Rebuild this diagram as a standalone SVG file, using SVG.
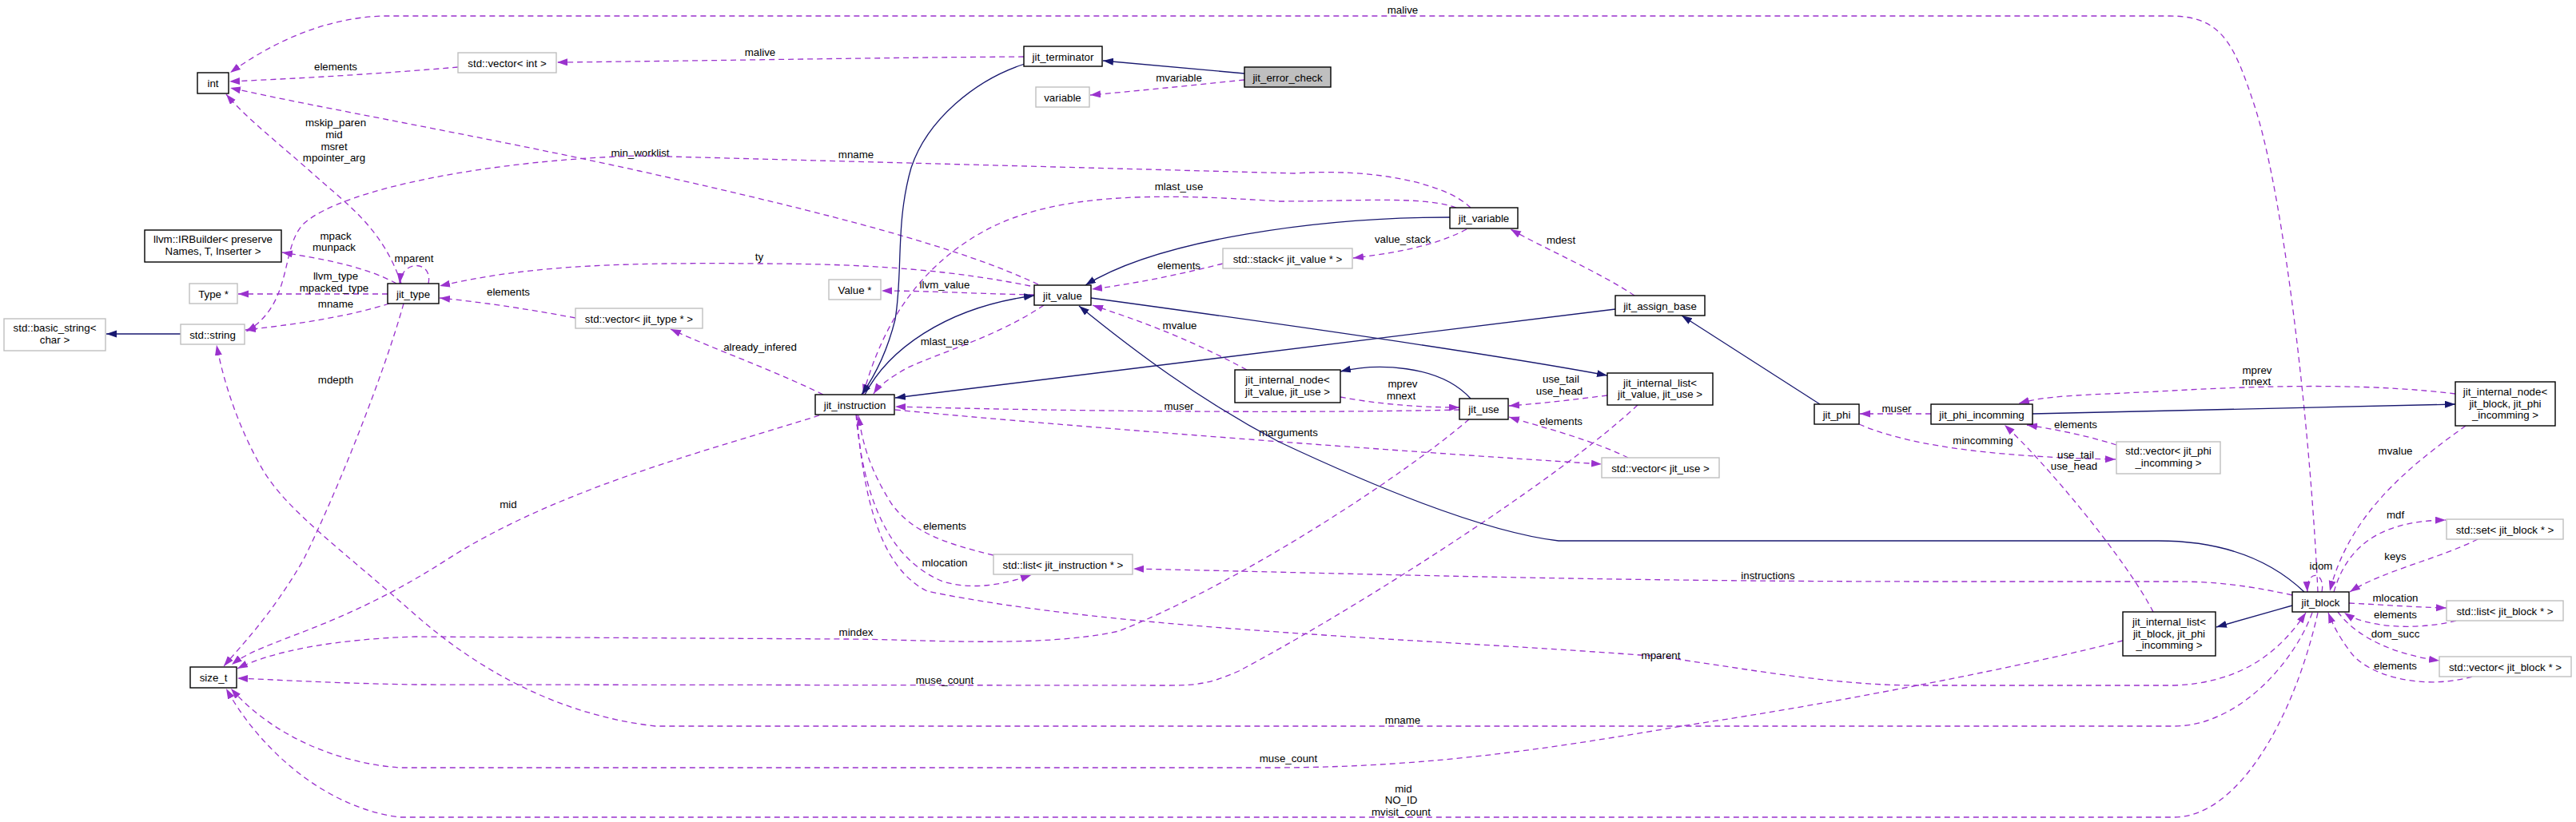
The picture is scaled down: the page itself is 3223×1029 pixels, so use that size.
<svg xmlns="http://www.w3.org/2000/svg" width="3223" height="1029" viewBox="0 0 3223 1029">
<defs>
<marker id="ap" markerWidth="14" markerHeight="10" refX="13" refY="4.5" orient="auto" markerUnits="userSpaceOnUse"><path d="M0,0 L13,4.5 L0,9 z" fill="#9a32cd"/></marker>
<marker id="an" markerWidth="14" markerHeight="10" refX="13" refY="4.5" orient="auto" markerUnits="userSpaceOnUse"><path d="M0,0 L13,4.5 L0,9 z" fill="#191970"/></marker>
<style>
text{font-family:"Liberation Sans",Arial,sans-serif;font-size:13.3px;fill:#000;text-anchor:middle}
.n rect{fill:#fff;stroke:#000;stroke-width:1.4}
.g rect{fill:#fff;stroke:#bfbfbf;stroke-width:1.4}
.cur rect{fill:#bfbfbf}
.u{fill:none;stroke:#9a32cd;stroke-width:1.3;stroke-dasharray:7,5;marker-end:url(#ap)}
.i{fill:none;stroke:#191970;stroke-width:1.3;marker-end:url(#an)}
</style>
</defs>
<rect width="3223" height="1029" fill="#fff"/>
<g id="connectors">
<path class="u" d="M2900,741 C2892,560 2860,250 2820,130 C2795,55 2780,20 2715,20 L480,20 C410,22 345,50 288,91"/>
<text x="1755" y="16.5">malive</text>
<path class="u" d="M573,84 C480,92 380,98 287,102"/>
<text x="420" y="87.5">elements</text>
<path class="u" d="M1281,71 C1100,72 900,76 697,78"/>
<text x="951" y="69.5">malive</text>
<path class="u" d="M1557,100 C1490,107 1420,114 1364,119"/>
<text x="1475" y="101.5">mvariable</text>
<path class="u" d="M1299,356 C1200,310 1050,270 800,214 C600,170 400,135 288,110"/>
<text x="801" y="195.5">min_worklist</text>
<path class="u" d="M502,355 C480,290 440,260 400,225 C350,180 310,150 283,118"/>
<text x="420" y="157.5">mskip_paren</text>
<text x="418" y="172.5">mid</text>
<text x="418" y="187.5">msret</text>
<text x="418" y="201.5">mpointer_arg</text>
<path class="u" d="M496,355 C460,335 410,325 353,316"/>
<text x="420" y="299.5">mpack</text>
<text x="418" y="313.5">munpack</text>
<path class="u" d="M485,368 L298,368"/>
<text x="420" y="349.5">llvm_type</text>
<text x="418" y="364.5">mpacked_type</text>
<path class="u" d="M487,380 C440,395 380,405 307,413"/>
<text x="420" y="384.5">mname</text>
<path class="u" d="M536,355 C542,326 503,324 500,355"/>
<text x="518" y="327.5">mparent</text>
<path class="u" d="M505,380 C480,470 420,620 380,700 C340,770 300,810 280,834"/>
<text x="420" y="479.5">mdepth</text>
<path class="u" d="M1025,520 C900,560 700,610 560,700 C420,790 330,800 290,832"/>
<text x="636" y="635.5">mid</text>
<path class="u" d="M1289,358 C1200,340 1100,330 950,330 C750,328 650,335 550,358"/>
<text x="950" y="325.5">ty</text>
<path class="u" d="M720,398 C650,385 600,378 550,373"/>
<text x="636" y="369.5">elements</text>
<path class="u" d="M1030,494 C960,460 900,440 839,412"/>
<text x="951" y="438.5">already_infered</text>
<path class="u" d="M1294,369 C1230,368 1160,364 1103,364"/>
<text x="1182" y="360.5">llvm_value</text>
<path class="u" d="M1822,260 C1780,245 1700,252 1600,252 C1450,242 1320,240 1230,290 C1140,340 1100,420 1080,494"/>
<text x="1475" y="237.5">mlast_use</text>
<path class="u" d="M1840,260 C1810,230 1720,210 1620,217 L800,195 C620,200 430,235 380,280 C350,310 368,380 308,415"/>
<text x="1071" y="197.5">mname</text>
<path class="u" d="M1306,382 C1250,420 1180,440 1136,460 C1115,472 1100,482 1093,493"/>
<text x="1182" y="431.5">mlast_use</text>
<path class="u" d="M1835,287 C1800,305 1760,315 1693,323"/>
<text x="1755" y="303.5">value_stack</text>
<path class="u" d="M1530,330 C1470,345 1420,355 1366,362"/>
<text x="1475" y="336.5">elements</text>
<path class="u" d="M2045,370 C2000,340 1930,310 1890,287"/>
<text x="1953" y="304.5">mdest</text>
<path class="u" d="M1560,463 C1480,420 1420,400 1367,382"/>
<text x="1476" y="411.5">mvalue</text>
<path class="u" d="M1826,513 C1600,518 1300,514 1120,509"/>
<text x="1475" y="512.5">muser</text>
<path class="u" d="M1677,497 C1720,505 1770,510 1826,510"/>
<text x="1755" y="484.5">mprev</text>
<text x="1753" y="499.5">mnext</text>
<path class="u" d="M2011,495 C1970,500 1930,505 1888,508"/>
<text x="1953" y="478.5">use_tail</text>
<text x="1951" y="493.5">use_head</text>
<path class="u" d="M2037,573 C1990,550 1930,535 1888,522"/>
<text x="1953" y="531.5">elements</text>
<path class="u" d="M1120,513 C1350,535 1750,565 2004,581"/>
<text x="1612" y="545.5">marguments</text>
<path class="u" d="M1072,519 C1080,620 1100,710 1160,740 C1400,790 1800,800 2078,822 C2200,840 2300,858 2400,858 L2720,858 C2800,855 2850,820 2885,767"/>
<text x="2078" y="824.5">mparent</text>
<path class="u" d="M1071,519 C1080,620 1110,700 1180,728 C1220,740 1260,730 1290,720"/>
<text x="1182" y="708.5">mlocation</text>
<path class="u" d="M1243,695 C1180,680 1140,665 1115,630 C1090,590 1080,560 1074,520"/>
<text x="1182" y="662.5">elements</text>
<path class="u" d="M2868,745 C2800,730 2760,728 2720,728 L2420,728 C2000,728 1700,718 1418,712"/>
<text x="2212" y="724.5">instructions</text>
<path class="u" d="M2416,518 L2327,518"/>
<text x="2373" y="515.5">muser</text>
<path class="u" d="M2326,531 C2380,555 2480,572 2647,575"/>
<text x="2481" y="555.5">mincomming</text>
<path class="u" d="M2648,557 C2610,545 2570,537 2536,532"/>
<text x="2597" y="535.5">elements</text>
<path class="u" d="M2694,766 C2660,700 2560,580 2508,532"/>
<text x="2597" y="573.5">use_tail</text>
<text x="2595" y="587.5">use_head</text>
<path class="u" d="M3072,493 C2980,482 2873,480 2700,490 C2600,495 2560,495 2526,505"/>
<text x="2824" y="467.5">mprev</text>
<text x="2823" y="481.5">mnext</text>
<path class="u" d="M3085,533 C3020,580 2940,640 2915,740"/>
<text x="2997" y="568.5">mvalue</text>
<path class="u" d="M2920,741 C2935,690 2970,652 3060,651"/>
<text x="2997" y="648.5">mdf</text>
<path class="u" d="M3100,675 C3050,700 2980,715 2940,741"/>
<text x="2997" y="700.5">keys</text>
<path class="u" d="M2905,741 C2910,715 2885,712 2887,741"/>
<text x="2904" y="712.5">idom</text>
<path class="u" d="M3073,777 C3020,790 2960,785 2933,767"/>
<text x="2997" y="773.5">elements</text>
<path class="u" d="M2939,755 C2980,757 3020,760 3061,761"/>
<text x="2997" y="752.5">mlocation</text>
<path class="u" d="M2925,766 C2950,800 3000,820 3052,827"/>
<text x="2997" y="797.5">dom_succ</text>
<path class="u" d="M3093,847 C3030,865 2960,845 2940,815 C2925,795 2918,780 2913,767"/>
<text x="2997" y="837.5">elements</text>
<path class="u" d="M1838,525 C1750,600 1550,730 1400,790 C1300,812 1150,800 1058,800 L520,797 C420,800 340,815 297,837"/>
<text x="1071" y="795.5">mindex</text>
<path class="u" d="M2049,507 C1950,600 1700,760 1550,840 C1510,858 1490,858 1460,858 L520,857 C400,855 330,850 297,849"/>
<text x="1182" y="855.5">muse_count</text>
<path class="u" d="M2656,802 C2550,830 2300,880 2116,907 C1950,935 1800,960 1600,961 L500,961 C420,955 340,920 289,862"/>
<text x="1612" y="953.5">muse_count</text>
<path class="u" d="M2893,767 C2870,830 2800,909 2720,909 L820,909 C700,895 600,840 520,770 C430,690 360,640 330,590 C300,540 280,480 271,432"/>
<text x="1755" y="905.5">mname</text>
<path class="u" d="M2900,767 C2870,900 2800,1023 2720,1023 L500,1023 C400,1010 320,930 283,862"/>
<text x="1756" y="991.5">mid</text>
<text x="1753" y="1005.5">NO_ID</text>
<text x="1753" y="1020.5">mvisit_count</text>
<path class="i" d="M226,418 L133,418"/>
<path class="i" d="M1557,92 L1380,76"/>
<path class="i" d="M1282,80 C1220,100 1160,150 1140,210 C1120,280 1130,340 1120,400 C1110,440 1095,470 1078,494"/>
<path class="i" d="M1082,494 C1110,440 1180,385 1294,370"/>
<path class="i" d="M1814,272 C1650,272 1450,300 1358,357"/>
<path class="i" d="M2021,387 L1120,498"/>
<path class="i" d="M1365,373 C1600,405 1850,440 2011,470"/>
<path class="i" d="M2277,506 L2104,395"/>
<path class="i" d="M2883,741 C2840,700 2780,677 2700,677 L1950,677 C1850,665 1700,600 1600,553 C1500,500 1420,440 1350,383"/>
<path class="i" d="M2543,518 L3072,506"/>
<path class="i" d="M2868,758 L2773,785"/>
<path class="i" d="M1840,499 C1800,455 1720,455 1677,465"/>
</g>
<g id="n_int" class="n"><rect x="247" y="91" width="39" height="26"/><text x="266.5" y="108.5">int</text></g>
<g id="n_vecint" class="g"><rect x="573" y="66" width="123" height="25"/><text x="634.5" y="83.5">std::vector&lt; int &gt;</text></g>
<g id="n_irbuilder" class="n"><rect x="181" y="288" width="171" height="40"/><text x="266.5" y="304">llvm::IRBuilder&lt; preserve</text><text x="266.5" y="319">Names, T, Inserter &gt;</text></g>
<g id="n_typeptr" class="g"><rect x="237" y="355" width="60" height="25"/><text x="267" y="372.5">Type *</text></g>
<g id="n_basicstring" class="g"><rect x="5" y="399" width="127" height="40"/><text x="68.5" y="415">std::basic_string&lt;</text><text x="68.5" y="430">char &gt;</text></g>
<g id="n_string" class="g"><rect x="226" y="406" width="80" height="25"/><text x="266" y="423.5">std::string</text></g>
<g id="n_jit_type" class="n"><rect x="485" y="355" width="64" height="25"/><text x="517" y="372.5">jit_type</text></g>
<g id="n_vecjittype" class="g"><rect x="720" y="386" width="159" height="25"/><text x="799.5" y="403.5">std::vector&lt; jit_type * &gt;</text></g>
<g id="n_jit_terminator" class="n"><rect x="1281" y="58" width="98" height="25"/><text x="1330" y="75.5">jit_terminator</text></g>
<g id="n_jit_error_check" class="n cur"><rect x="1557" y="84" width="108" height="25"/><text x="1611" y="101.5">jit_error_check</text></g>
<g id="n_variable" class="g"><rect x="1296" y="109" width="67" height="25"/><text x="1329.5" y="126.5">variable</text></g>
<g id="n_valueptr" class="g"><rect x="1037" y="350" width="65" height="25"/><text x="1069.5" y="367.5">Value *</text></g>
<g id="n_jit_value" class="n"><rect x="1294" y="357" width="71" height="25"/><text x="1329.5" y="374.5">jit_value</text></g>
<g id="n_stack" class="g"><rect x="1530" y="311" width="162" height="25"/><text x="1611" y="328.5">std::stack&lt; jit_value * &gt;</text></g>
<g id="n_jit_instruction" class="n"><rect x="1020" y="494" width="99" height="25"/><text x="1069.5" y="511.5">jit_instruction</text></g>
<g id="n_inode_value" class="n"><rect x="1545" y="463" width="132" height="41"/><text x="1611" y="479.5">jit_internal_node&lt;</text><text x="1611" y="494.5">jit_value, jit_use &gt;</text></g>
<g id="n_jit_variable" class="n"><rect x="1814" y="260" width="85" height="26"/><text x="1856.5" y="277.5">jit_variable</text></g>
<g id="n_jit_assign_base" class="n"><rect x="2021" y="370" width="112" height="25"/><text x="2077" y="387.5">jit_assign_base</text></g>
<g id="n_jit_use" class="n"><rect x="1826" y="499" width="61" height="26"/><text x="1856.5" y="516.5">jit_use</text></g>
<g id="n_ilist_value" class="n"><rect x="2011" y="467" width="132" height="40"/><text x="2077" y="484">jit_internal_list&lt;</text><text x="2077" y="498">jit_value, jit_use &gt;</text></g>
<g id="n_jit_phi" class="n"><rect x="2270" y="506" width="56" height="25"/><text x="2298" y="523.5">jit_phi</text></g>
<g id="n_jit_phi_incomming" class="n"><rect x="2416" y="506" width="127" height="25"/><text x="2479.5" y="523.5">jit_phi_incomming</text></g>
<g id="n_inode_block" class="n"><rect x="3072" y="478" width="125" height="55"/><text x="3134.5" y="494.5">jit_internal_node&lt;</text><text x="3134.5" y="509.5">jit_block, jit_phi</text><text x="3134.5" y="523.5">_incomming &gt;</text></g>
<g id="n_vecuse" class="g"><rect x="2004" y="573" width="147" height="25"/><text x="2077.5" y="590.5">std::vector&lt; jit_use &gt;</text></g>
<g id="n_vecphi" class="g"><rect x="2648" y="553" width="130" height="40"/><text x="2713" y="569">std::vector&lt; jit_phi</text><text x="2713" y="584">_incomming &gt;</text></g>
<g id="n_listinstr" class="g"><rect x="1243" y="694" width="174" height="25"/><text x="1330" y="711.5">std::list&lt; jit_instruction * &gt;</text></g>
<g id="n_setblock" class="g"><rect x="3061" y="650" width="146" height="25"/><text x="3134" y="667.5">std::set&lt; jit_block * &gt;</text></g>
<g id="n_jit_block" class="n"><rect x="2868" y="741" width="71" height="25"/><text x="2903.5" y="758.5">jit_block</text></g>
<g id="n_listblock" class="g"><rect x="3061" y="752" width="146" height="25"/><text x="3134" y="769.5">std::list&lt; jit_block * &gt;</text></g>
<g id="n_ilist_block" class="n"><rect x="2656" y="766" width="116" height="55"/><text x="2714" y="782.5">jit_internal_list&lt;</text><text x="2714" y="797.5">jit_block, jit_phi</text><text x="2714" y="811.5">_incomming &gt;</text></g>
<g id="n_vecblock" class="g"><rect x="3052" y="822" width="165" height="25"/><text x="3134.5" y="839.5">std::vector&lt; jit_block * &gt;</text></g>
<g id="n_size_t" class="n"><rect x="238" y="835" width="58" height="26"/><text x="267" y="852.5">size_t</text></g>
</svg>
